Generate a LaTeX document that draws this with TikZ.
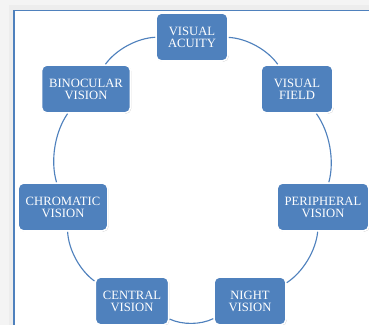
\documentclass[tikz,border=0pt]{standalone}
\usepackage{fontspec}
\setmainfont{Liberation Serif}
\usepackage{tikz}
\usetikzlibrary{shadows}
\definecolor{boxblue}{HTML}{4F81BD}
\tikzstyle{Sense}=[rectangle, rounded corners=4pt, fill=boxblue, draw=white, line width=1.1pt, minimum width=1.8cm, minimum height=1.2cm, inner xsep=0.19cm, align=center, text=white, font=\fontsize{9}{8.6}\selectfont, drop shadow={opacity=0.35, shadow xshift=0.6pt, shadow yshift=-0.6pt}]
\tikzstyle{Ring}=[draw=boxblue, line width=0.8pt, bend left=25.7, looseness=0.82]

\begin{document}
\begin{tikzpicture}
    \useasboundingbox (0,0) rectangle (9.225,8.125);
    \clip (0,0) rectangle (9.225,8.125);
    \fill[gray!9] (0,0) rectangle (9.225,8.125);
    \fill[gray!14] (0.22,-1) rectangle (10,7.99);
    \fill[white] (0.35,-1) rectangle (10,7.86);
    \draw[boxblue, line width=1.2pt] (0.35,-1) -- (0.35,7.86) -- (10,7.86);

    \path
    (4.8,7.2) node[Sense] (acuity) {VISUAL\\ACUITY}
    (7.425,5.9) node[Sense] (field) {VISUAL\\FIELD}
    (8.075,2.95) node[Sense] (periph) {PERIPHERAL\\VISION}
    (6.25,0.6) node[Sense] (night) {NIGHT\\VISION}
    (3.3,0.6) node[Sense] (central) {CENTRAL\\VISION}
    (1.575,2.95) node[Sense] (chroma) {CHROMATIC\\VISION}
    (2.15,5.9) node[Sense] (binoc) {BINOCULAR\\VISION};

    \draw[Ring] (acuity) to (field);
    \draw[Ring] (field) to (periph);
    \draw[Ring] (periph) to (night);
    \draw[Ring] (night) to (central);
    \draw[Ring] (central) to (chroma);
    \draw[Ring] (chroma) to (binoc);
    \draw[Ring] (binoc) to (acuity);
\end{tikzpicture}
\end{document}
